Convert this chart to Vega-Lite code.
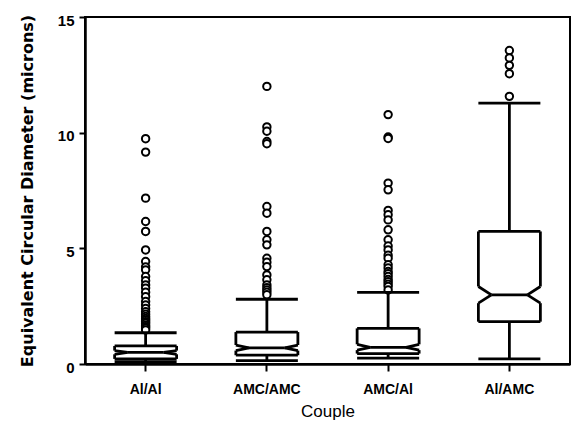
{
  "$schema": "https://vega.github.io/schema/vega-lite/v6.json",
  "width": 485,
  "height": 347,
  "autosize": {"type": "none"},
  "padding": {"left": 85, "top": 17, "right": 2, "bottom": 62},
  "background": "white",
  "config": {
    "view": {"stroke": "black", "strokeWidth": 2},
    "font": "Liberation Sans"
  },
  "datasets": {
    "stats": [
      {"couple": "Al/Al", "wlo": 0.1, "q1": 0.22, "nlo": 0.42, "med": 0.5, "nhi": 0.58, "q3": 0.78, "whi": 1.35},
      {"couple": "AMC/AMC", "wlo": 0.15, "q1": 0.38, "nlo": 0.58, "med": 0.7, "nhi": 0.82, "q3": 1.38, "whi": 2.8},
      {"couple": "AMC/Al", "wlo": 0.25, "q1": 0.45, "nlo": 0.6, "med": 0.72, "nhi": 0.85, "q3": 1.54, "whi": 3.1},
      {"couple": "Al/AMC", "wlo": 0.22, "q1": 1.83, "nlo": 2.63, "med": 2.99, "nhi": 3.35, "q3": 5.73, "whi": 11.28}
    ],
    "outliers": [
      {"couple": "Al/Al", "v": 9.74}, {"couple": "Al/Al", "v": 9.16}, {"couple": "Al/Al", "v": 7.17},
      {"couple": "Al/Al", "v": 6.16}, {"couple": "Al/Al", "v": 5.73}, {"couple": "Al/Al", "v": 4.93},
      {"couple": "Al/Al", "v": 4.43}, {"couple": "Al/Al", "v": 4.2}, {"couple": "Al/Al", "v": 4.07},
      {"couple": "Al/Al", "v": 3.78}, {"couple": "Al/Al", "v": 3.6}, {"couple": "Al/Al", "v": 3.42},
      {"couple": "Al/Al", "v": 3.28}, {"couple": "Al/Al", "v": 3.1}, {"couple": "Al/Al", "v": 2.91},
      {"couple": "Al/Al", "v": 2.7}, {"couple": "Al/Al", "v": 2.55}, {"couple": "Al/Al", "v": 2.4},
      {"couple": "Al/Al", "v": 2.26}, {"couple": "Al/Al", "v": 2.15}, {"couple": "Al/Al", "v": 2.05},
      {"couple": "Al/Al", "v": 1.97}, {"couple": "Al/Al", "v": 1.9}, {"couple": "Al/Al", "v": 1.83},
      {"couple": "Al/Al", "v": 1.76}, {"couple": "Al/Al", "v": 1.68}, {"couple": "Al/Al", "v": 1.61},
      {"couple": "Al/Al", "v": 1.55}, {"couple": "Al/Al", "v": 1.47},
      {"couple": "AMC/AMC", "v": 12.0}, {"couple": "AMC/AMC", "v": 10.25}, {"couple": "AMC/AMC", "v": 10.06},
      {"couple": "AMC/AMC", "v": 9.62}, {"couple": "AMC/AMC", "v": 9.52}, {"couple": "AMC/AMC", "v": 6.81},
      {"couple": "AMC/AMC", "v": 6.52}, {"couple": "AMC/AMC", "v": 5.73}, {"couple": "AMC/AMC", "v": 5.37},
      {"couple": "AMC/AMC", "v": 5.15}, {"couple": "AMC/AMC", "v": 4.57}, {"couple": "AMC/AMC", "v": 4.4},
      {"couple": "AMC/AMC", "v": 4.21}, {"couple": "AMC/AMC", "v": 3.85}, {"couple": "AMC/AMC", "v": 3.64},
      {"couple": "AMC/AMC", "v": 3.42}, {"couple": "AMC/AMC", "v": 3.3}, {"couple": "AMC/AMC", "v": 3.2},
      {"couple": "AMC/AMC", "v": 3.1}, {"couple": "AMC/AMC", "v": 2.99},
      {"couple": "AMC/Al", "v": 10.78}, {"couple": "AMC/Al", "v": 9.81}, {"couple": "AMC/Al", "v": 9.75},
      {"couple": "AMC/Al", "v": 7.82}, {"couple": "AMC/Al", "v": 7.53}, {"couple": "AMC/Al", "v": 6.64},
      {"couple": "AMC/Al", "v": 6.45}, {"couple": "AMC/Al", "v": 6.23}, {"couple": "AMC/Al", "v": 5.8},
      {"couple": "AMC/Al", "v": 5.37}, {"couple": "AMC/Al", "v": 5.1}, {"couple": "AMC/Al", "v": 4.93},
      {"couple": "AMC/Al", "v": 4.7}, {"couple": "AMC/Al", "v": 4.57}, {"couple": "AMC/Al", "v": 4.29},
      {"couple": "AMC/Al", "v": 4.15}, {"couple": "AMC/Al", "v": 4.0}, {"couple": "AMC/Al", "v": 3.9},
      {"couple": "AMC/Al", "v": 3.78}, {"couple": "AMC/Al", "v": 3.65}, {"couple": "AMC/Al", "v": 3.56},
      {"couple": "AMC/Al", "v": 3.45}, {"couple": "AMC/Al", "v": 3.35}, {"couple": "AMC/Al", "v": 3.2},
      {"couple": "Al/AMC", "v": 13.55}, {"couple": "Al/AMC", "v": 13.23}, {"couple": "Al/AMC", "v": 12.91},
      {"couple": "Al/AMC", "v": 12.55}, {"couple": "Al/AMC", "v": 11.57}
    ]
  },
  "encoding": {
    "x": {
      "field": "couple",
      "type": "nominal",
      "sort": ["Al/Al", "AMC/AMC", "AMC/Al", "Al/AMC"],
      "scale": {"paddingInner": 0, "paddingOuter": 0},
      "axis": {
        "title": "Couple",
        "titleFont": "Liberation Sans",
        "titleFontSize": 17,
        "titleFontWeight": "normal",
        "titleColor": "black",
        "titlePadding": 7,
        "labelFont": "Liberation Sans",
        "labelFontSize": 14,
        "labelFontWeight": "bold",
        "labelColor": "black",
        "labelAngle": 0,
        "labelPadding": 11,
        "tickSize": 7,
        "tickWidth": 2,
        "tickColor": "black",
        "domainColor": "black",
        "domainWidth": 2.5,
        "grid": false
      }
    }
  },
  "layer": [
    {
      "data": {"name": "outliers"},
      "mark": {"type": "point", "shape": "circle", "filled": true, "fill": "white", "stroke": "black", "strokeWidth": 2, "size": 55, "opacity": 1},
      "encoding": {
        "y": {
          "field": "v",
          "type": "quantitative",
          "scale": {"domain": [0, 15], "nice": false},
          "axis": {
            "title": "Equivalent Circular Diameter (microns)",
            "titleFont": "DejaVu Sans",
            "titleFontSize": 16,
            "titleFontWeight": "bold",
            "titleColor": "black",
            "titlePadding": 22,
            "values": [0, 5, 10, 15],
            "labelOverlap": false,
            "labelFlush": false,
            "labelFont": "Liberation Sans",
            "labelFontSize": 15,
            "labelFontWeight": "bold",
            "labelColor": "black",
            "labelPadding": 5,
            "labelOffset": 3,
            "tickSize": 6,
            "tickWidth": 2,
            "tickColor": "black",
            "domainColor": "black",
            "domainWidth": 2.5,
            "grid": false
          }
        }
      }
    },
    {
      "data": {"name": "stats"},
      "mark": {"type": "rule", "strokeWidth": 2.8, "color": "black"},
      "encoding": {"y": {"field": "q3", "type": "quantitative"}, "y2": {"field": "whi"}}
    },
    {
      "data": {"name": "stats"},
      "mark": {"type": "rule", "strokeWidth": 2.8, "color": "black"},
      "encoding": {"y": {"field": "wlo", "type": "quantitative"}, "y2": {"field": "q1"}}
    },
    {
      "data": {"name": "stats"},
      "mark": {"type": "rule", "strokeWidth": 2.8, "color": "black", "xOffset": -31, "x2Offset": 31},
      "encoding": {"x2": {"field": "couple"}, "y": {"field": "whi", "type": "quantitative"}}
    },
    {
      "data": {"name": "stats"},
      "mark": {"type": "rule", "strokeWidth": 2.8, "color": "black", "xOffset": -31, "x2Offset": 31},
      "encoding": {"x2": {"field": "couple"}, "y": {"field": "wlo", "type": "quantitative"}}
    },
    {
      "data": {"name": "stats"},
      "mark": {"type": "rule", "strokeWidth": 2.8, "color": "black", "xOffset": -31, "x2Offset": 31},
      "encoding": {"x2": {"field": "couple"}, "y": {"field": "q3", "type": "quantitative"}}
    },
    {
      "data": {"name": "stats"},
      "mark": {"type": "rule", "strokeWidth": 2.8, "color": "black", "xOffset": -31, "x2Offset": 31},
      "encoding": {"x2": {"field": "couple"}, "y": {"field": "q1", "type": "quantitative"}}
    },
    {
      "data": {"name": "stats"},
      "mark": {"type": "rule", "strokeWidth": 2.8, "color": "black", "xOffset": -18, "x2Offset": 18},
      "encoding": {"x2": {"field": "couple"}, "y": {"field": "med", "type": "quantitative"}}
    },
    {
      "data": {"name": "stats"},
      "mark": {"type": "rule", "strokeWidth": 2.8, "color": "black", "xOffset": -31},
      "encoding": {"y": {"field": "nhi", "type": "quantitative"}, "y2": {"field": "q3"}}
    },
    {
      "data": {"name": "stats"},
      "mark": {"type": "rule", "strokeWidth": 2.8, "color": "black", "xOffset": 31},
      "encoding": {"y": {"field": "nhi", "type": "quantitative"}, "y2": {"field": "q3"}}
    },
    {
      "data": {"name": "stats"},
      "mark": {"type": "rule", "strokeWidth": 2.8, "color": "black", "xOffset": -31},
      "encoding": {"y": {"field": "q1", "type": "quantitative"}, "y2": {"field": "nlo"}}
    },
    {
      "data": {"name": "stats"},
      "mark": {"type": "rule", "strokeWidth": 2.8, "color": "black", "xOffset": 31},
      "encoding": {"y": {"field": "q1", "type": "quantitative"}, "y2": {"field": "nlo"}}
    },
    {
      "data": {"name": "stats"},
      "mark": {"type": "rule", "strokeWidth": 2.8, "color": "black", "xOffset": -31, "x2Offset": -18},
      "encoding": {"x2": {"field": "couple"}, "y": {"field": "nhi", "type": "quantitative"}, "y2": {"field": "med"}}
    },
    {
      "data": {"name": "stats"},
      "mark": {"type": "rule", "strokeWidth": 2.8, "color": "black", "xOffset": 31, "x2Offset": 18},
      "encoding": {"x2": {"field": "couple"}, "y": {"field": "nhi", "type": "quantitative"}, "y2": {"field": "med"}}
    },
    {
      "data": {"name": "stats"},
      "mark": {"type": "rule", "strokeWidth": 2.8, "color": "black", "xOffset": -31, "x2Offset": -18},
      "encoding": {"x2": {"field": "couple"}, "y": {"field": "nlo", "type": "quantitative"}, "y2": {"field": "med"}}
    },
    {
      "data": {"name": "stats"},
      "mark": {"type": "rule", "strokeWidth": 2.8, "color": "black", "xOffset": 31, "x2Offset": 18},
      "encoding": {"x2": {"field": "couple"}, "y": {"field": "nlo", "type": "quantitative"}, "y2": {"field": "med"}}
    }
  ]
}
